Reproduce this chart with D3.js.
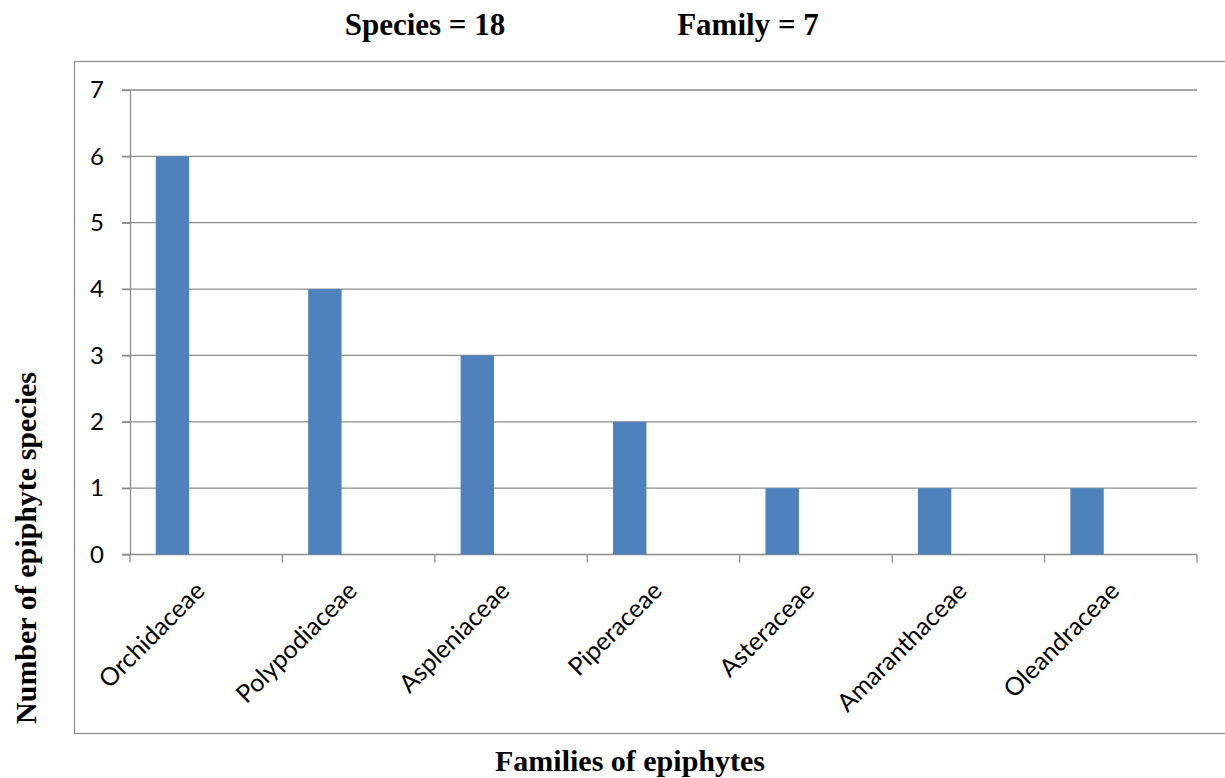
<!DOCTYPE html>
<html lang="en">
    <head>
        <meta charset="utf-8">
        <title>Families of epiphytes</title>
        <script type="text/javascript" src="https://d3js.org/d3.v7.min.js"></script>
        <style type="text/css">
            body {
                margin: 0;
                background-color: white;
            }
            /* bold serif titles */
            .title_text {
                font-family: "Liberation Serif", "Times New Roman", serif;
                font-weight: bold;
                font-size: 30px;
                fill: black;
            }
            .tick text {
                font-family: Lato, "Open Sans", sans-serif;
                font-size: 24px;
                fill: black;
            }
        </style>
    </head>
    <body>
        <svg width="1225" height="778" id="svg1"></svg>

        <script type="text/javascript">

            // data
            const families = ["Orchidaceae", "Polypodiaceae", "Aspleniaceae", "Piperaceae", "Asteraceae", "Amaranthaceae", "Oleandraceae"];
            const speciesCounts = [6, 4, 3, 2, 1, 1, 1];
            const yTicks = [0, 1, 2, 3, 4, 5, 6, 7];
            const headerTexts = ["Species = 18", "Family = 7"];
            const xTitle = "Families of epiphytes";
            const yTitle = "Number of epiphyte species";

            const svg = d3.select("#svg1");
            const gridColor = "#8c8c8c";
            const barColor = "#4f81bd";

            // plot area
            const plotLeft = 130, plotRight = 1197, plotTop = 90, plotBottom = 554.5;

            const x = d3.scaleBand()
                .domain(families)
                .range([plotLeft, plotRight])
                .paddingInner(0)
                .paddingOuter(0);

            const y = d3.scaleLinear()
                .domain([0, 7])
                .range([plotBottom, plotTop]);

            // outer chart frame (right side runs off the page)
            svg.append("rect")
                .attr("x", 74.5)
                .attr("y", 61.5)
                .attr("width", 1200)
                .attr("height", 672)
                .style("fill", "none")
                .style("stroke", gridColor)
                .style("stroke-width", 1.2);

            // horizontal gridlines
            svg.append("g")
                .selectAll("line")
                .data(yTicks)
                .enter()
                .append("line")
                .attr("x1", plotLeft - 8)
                .attr("x2", plotRight)
                .attr("y1", d => y(d))
                .attr("y2", d => y(d))
                .style("stroke", gridColor)
                .style("stroke-width", 1.3);

            // y axis with labels
            const yAxis = svg.append("g")
                .attr("transform", `translate(${plotLeft},0)`)
                .call(d3.axisLeft(y).tickValues(yTicks).tickFormat(d3.format("d"))
                    .tickSizeInner(8).tickSizeOuter(0).tickPadding(18));
            yAxis.select(".domain").style("stroke", gridColor).style("stroke-width", 1.3);
            yAxis.selectAll(".tick line").style("stroke", gridColor).style("stroke-width", 1.3);

            // bars - sit in the left part of each category slot
            const bw = x.bandwidth();
            svg.append("g")
                .selectAll("rect")
                .data(speciesCounts)
                .enter()
                .append("rect")
                .attr("x", (d, i) => x(families[i]) + bw * 0.169)
                .attr("width", bw * 0.219)
                .attr("y", d => y(d))
                .attr("height", d => y(0) - y(d))
                .style("fill", barColor);

            // x axis: tick marks at category boundaries
            const boundaries = families.map(f => x(f)).concat([plotRight]);
            svg.append("g")
                .selectAll("line")
                .data(boundaries)
                .enter()
                .append("line")
                .attr("x1", d => d)
                .attr("x2", d => d)
                .attr("y1", plotBottom)
                .attr("y2", plotBottom + 8)
                .style("stroke", gridColor)
                .style("stroke-width", 1.3);

            // x axis labels, rotated
            const xAxis = svg.append("g")
                .attr("transform", `translate(0,${plotBottom})`)
                .call(d3.axisBottom(x).tickSize(0));
            xAxis.select(".domain").remove();
            xAxis.selectAll(".tick text")
                .style("font-size", "25px")
                .attr("text-anchor", "end")
                .attr("dy", null)
                .attr("y", 0)
                .attr("transform", "translate(0,38) rotate(-45)");

            // header texts
            svg.selectAll(".header")
                .data(headerTexts)
                .enter()
                .append("text")
                .attr("class", "title_text")
                .style("font-size", "31px")
                .attr("x", (d, i) => i === 0 ? 425 : 748)
                .attr("y", 35)
                .attr("text-anchor", "middle")
                .text(d => d);

            // axis titles
            svg.append("text")
                .attr("class", "title_text")
                .attr("x", 630)
                .attr("y", 771)
                .attr("text-anchor", "middle")
                .text(xTitle);

            svg.append("text")
                .attr("class", "title_text")
                .attr("transform", "translate(36,548) rotate(-90)")
                .attr("text-anchor", "middle")
                .text(yTitle);

        </script>
    </body>
</html>
